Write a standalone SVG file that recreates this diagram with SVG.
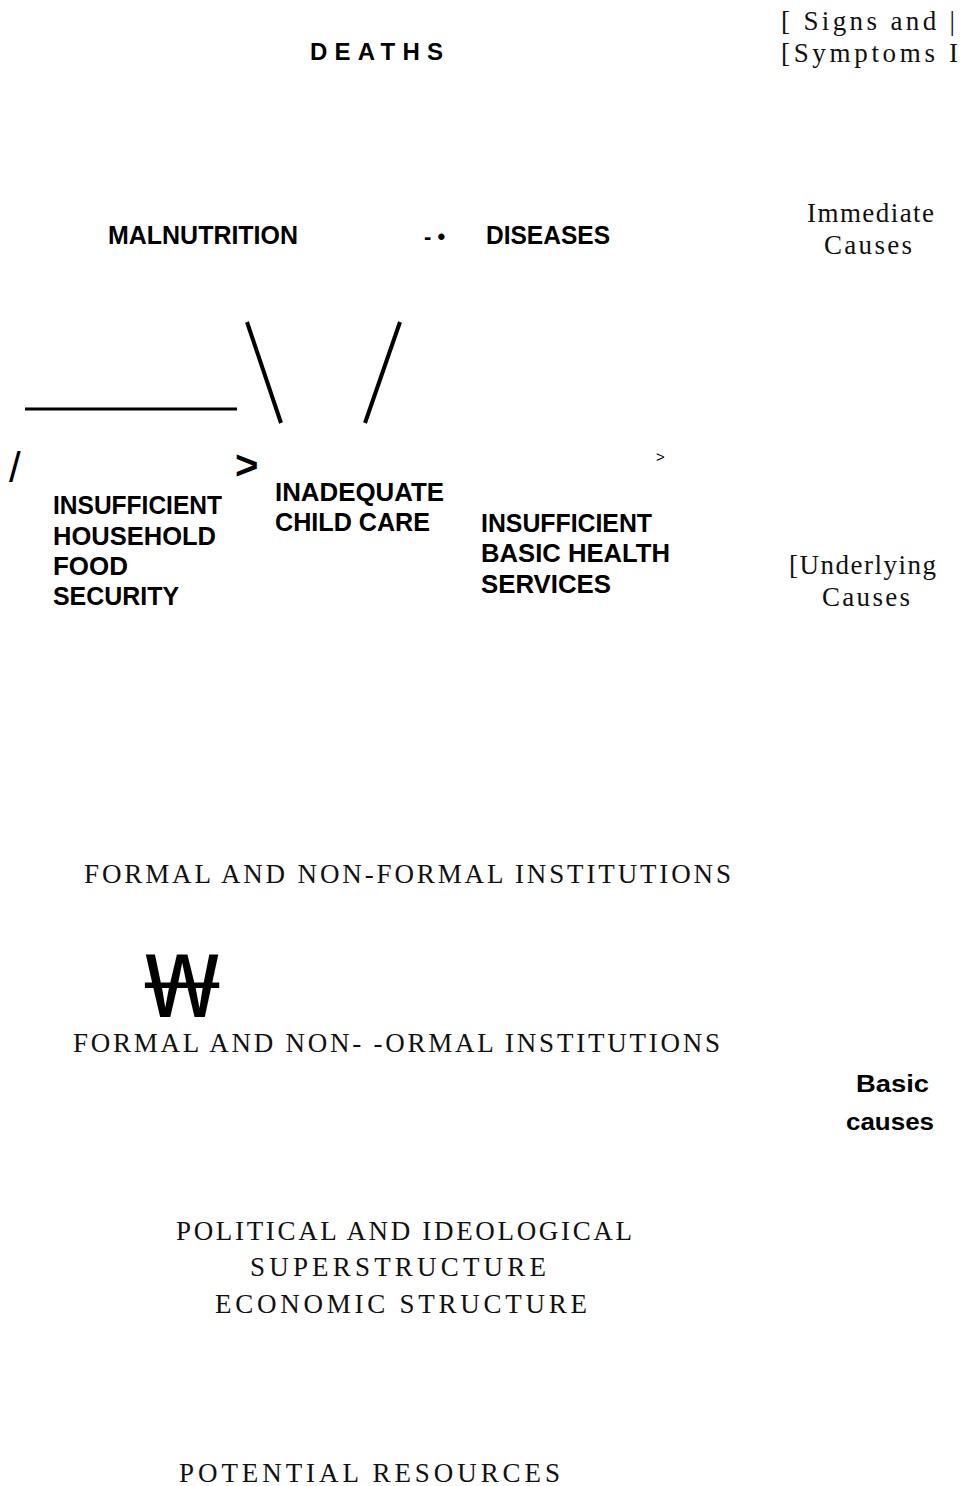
<svg xmlns="http://www.w3.org/2000/svg" width="962" height="1486" viewBox="0 0 962 1486">
<style>
.sn{font-family:"Liberation Sans",Arial,sans-serif;font-weight:bold;font-size:25px;fill:#000}
.sn26{font-size:26px}
.sn24{font-size:24px}
.sf{font-family:"Liberation Serif","Times New Roman",serif;font-size:27px;fill:#111}
.reg{font-weight:normal}
.ln{stroke:#000;fill:none;stroke-linecap:butt}
.won{font-family:"Noto Sans","Open Sans",sans-serif;font-size:88px;font-weight:normal;fill:#000}
</style>
<rect width="962" height="1486" fill="#fff"/>
<g id="deaths"><text class="sn sn24" x="310" y="60" textLength="133" lengthAdjust="spacing">DEATHS</text></g>
<g id="signs"><text class="sf" x="781" y="30" textLength="174" lengthAdjust="spacing">[ Signs and |</text><text class="sf" x="781" y="62" textLength="177" lengthAdjust="spacing">[Symptoms I</text></g>
<g id="malnutrition"><text class="sn sn26" x="108" y="244" textLength="190" lengthAdjust="spacingAndGlyphs">MALNUTRITION</text></g>
<g id="dot"><text class="sn" x="424" y="244" style="font-size:22px">- •</text></g>
<g id="diseases"><text class="sn sn26" x="486" y="244" textLength="124" lengthAdjust="spacingAndGlyphs">DISEASES</text></g>
<g id="immediate"><text class="sf" x="807" y="222" textLength="127" lengthAdjust="spacing">Immediate</text><text class="sf" x="824" y="254" textLength="88" lengthAdjust="spacing">Causes</text></g>
<g id="connectors">
<line class="ln" x1="25" y1="409" x2="237" y2="409" stroke-width="3"/>
<line class="ln" x1="247" y1="322" x2="281" y2="423" stroke-width="4"/>
<line class="ln" x1="400" y1="322" x2="365" y2="423" stroke-width="4"/>
<text class="sn reg" x="9" y="482" style="font-size:42px">/</text>
<text class="sn" x="235" y="479" style="font-size:40px">&gt;</text>
<text class="sn reg" x="656" y="462" style="font-size:15px">&gt;</text>
<text class="won" x="144" y="1017" transform="translate(145 0) scale(1.3 1) translate(-145 0)">₩</text>
</g>
<g id="food"><text class="sn" x="53" y="514" textLength="169" lengthAdjust="spacingAndGlyphs">INSUFFICIENT</text><text class="sn" x="53" y="545" textLength="163" lengthAdjust="spacingAndGlyphs">HOUSEHOLD</text><text class="sn" x="53" y="575" textLength="75" lengthAdjust="spacingAndGlyphs">FOOD</text><text class="sn" x="53" y="605" textLength="126" lengthAdjust="spacingAndGlyphs">SECURITY</text></g>
<g id="childcare"><text class="sn" x="275" y="501" textLength="169" lengthAdjust="spacingAndGlyphs">INADEQUATE</text><text class="sn" x="275" y="531" textLength="155" lengthAdjust="spacingAndGlyphs">CHILD CARE</text></g>
<g id="health"><text class="sn" x="481" y="532" textLength="171" lengthAdjust="spacingAndGlyphs">INSUFFICIENT</text><text class="sn" x="481" y="562" textLength="189" lengthAdjust="spacingAndGlyphs">BASIC  HEALTH</text><text class="sn" x="481" y="593" textLength="130" lengthAdjust="spacingAndGlyphs">SERVICES</text></g>
<g id="underlying"><text class="sf" x="789" y="574" textLength="147" lengthAdjust="spacing">[Underlying</text><text class="sf" x="822" y="606" textLength="88" lengthAdjust="spacing">Causes</text></g>
<g id="institutions1"><text class="sf" x="84" y="883" textLength="647" lengthAdjust="spacing">FORMAL  AND  NON-FORMAL  INSTITUTIONS</text></g>
<g id="institutions2"><text class="sf" x="73" y="1052" textLength="647" lengthAdjust="spacing">FORMAL  AND  NON- -ORMAL  INSTITUTIONS</text></g>
<g id="basic"><text class="sn" x="856" y="1092" style="font-size:23px" textLength="73" lengthAdjust="spacingAndGlyphs">Basic</text><text class="sn" x="846" y="1130" style="font-size:23px" textLength="88" lengthAdjust="spacingAndGlyphs">causes</text></g>
<g id="political"><text class="sf" x="176" y="1240" textLength="456" lengthAdjust="spacing">POLITICAL  AND  IDEOLOGICAL</text><text class="sf" x="250" y="1276" textLength="296" lengthAdjust="spacing">SUPERSTRUCTURE</text><text class="sf" x="215" y="1313" textLength="372" lengthAdjust="spacing">ECONOMIC  STRUCTURE</text></g>
<g id="resources"><text class="sf" x="179" y="1482" textLength="381" lengthAdjust="spacing">POTENTIAL  RESOURCES</text></g>
</svg>
